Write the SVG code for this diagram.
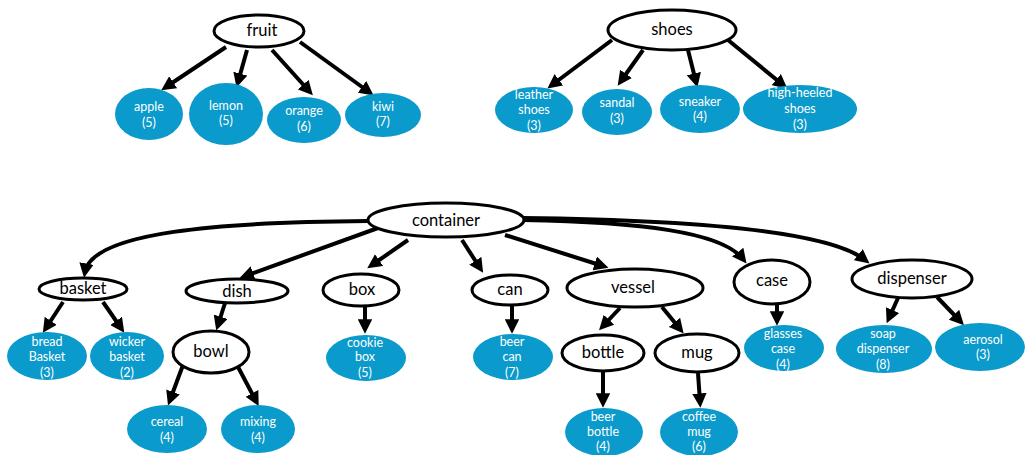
<svg xmlns="http://www.w3.org/2000/svg" width="1025" height="455" viewBox="0 0 1025 455">
  <style>
    .cat ellipse { fill: #ffffff; stroke: #000000; stroke-width: 3; }
    .cat text { font-family: Lato, "Open Sans", "Liberation Sans", sans-serif; font-size: 16.5px; fill: #000000; text-anchor: middle; }
    .leaf ellipse { fill: #0a9acb; stroke: none; }
    .leaf text { font-family: Lato, "Open Sans", "Liberation Sans", sans-serif; font-size: 12.5px; fill: #ffffff; text-anchor: middle; }
    #connectors path { fill: none; stroke: #000000; stroke-width: 4; marker-end: url(#arrow); }
  </style>
  <defs>
    <marker id="arrow" viewBox="0 0 10 10" refX="6" refY="5" markerWidth="3.6" markerHeight="3.6" orient="auto" markerUnits="strokeWidth">
      <path d="M0,0 L10,5 L0,10 z" fill="#000000"/>
    </marker>
  </defs>
  <rect width="1025" height="455" fill="#ffffff"/>

  <g id="connectors">
    <!-- fruit -->
    <path d="M226,47 L166,87"/>
    <path d="M247,50 L238,82"/>
    <path d="M272,50 L309,91"/>
    <path d="M300,42 L369,92"/>
    <!-- shoes -->
    <path d="M612,40 L552,85"/>
    <path d="M643,50 L621,81"/>
    <path d="M688,50 L696,82"/>
    <path d="M728,40 L783,85"/>
    <!-- container -->
    <path d="M368,221 C220,222 92,232 85,272"/>
    <path d="M378,228 L245,276"/>
    <path d="M408,240 L372,265"/>
    <path d="M462,240 L480,268"/>
    <path d="M505,235 L603,266"/>
    <path d="M523,220 C640,222 722,232 743,259"/>
    <path d="M522,218 C700,220 830,232 865,260"/>
    <!-- second level -->
    <path d="M63,302 L46,328"/>
    <path d="M103,302 L121,328"/>
    <path d="M225,303 L218,325"/>
    <path d="M183,365 L170,400"/>
    <path d="M237,365 L256,401"/>
    <path d="M365,306 L365,328"/>
    <path d="M512,305 L512,328"/>
    <path d="M620,308 L603,326"/>
    <path d="M662,307 L680,329"/>
    <path d="M603,372 L603,402"/>
    <path d="M698,373 L700,402"/>
    <path d="M777,304 L777,320"/>
    <path d="M898,298 L889,318"/>
    <path d="M937,297 L960,321"/>
  </g>

  <!-- fruit tree -->
  <g id="fruit" class="cat"><ellipse cx="259" cy="31" rx="45" ry="16"/><text x="262" y="36">fruit</text></g>
  <g id="apple" class="leaf"><ellipse cx="149" cy="114" rx="34" ry="26"/><text x="149" y="111">apple</text><text x="149" y="127">(5)</text></g>
  <g id="lemon" class="leaf"><ellipse cx="226" cy="114" rx="37" ry="31"/><text x="226" y="110">lemon</text><text x="226" y="125">(5)</text></g>
  <g id="orange" class="leaf"><ellipse cx="304" cy="120" rx="37" ry="23"/><text x="304" y="115">orange</text><text x="304" y="131">(6)</text></g>
  <g id="kiwi" class="leaf"><ellipse cx="383" cy="115" rx="38" ry="22"/><text x="383" y="111">kiwi</text><text x="383" y="126">(7)</text></g>

  <!-- shoes tree -->
  <g id="shoes" class="cat"><ellipse cx="672" cy="30" rx="64" ry="20"/><text x="672" y="35">shoes</text></g>
  <g id="leather-shoes" class="leaf"><ellipse cx="534" cy="110" rx="39" ry="23"/><text x="534" y="99">leather</text><text x="534" y="114">shoes</text><text x="534" y="130">(3)</text></g>
  <g id="sandal" class="leaf"><ellipse cx="617" cy="112" rx="35" ry="23"/><text x="617" y="107">sandal</text><text x="617" y="123">(3)</text></g>
  <g id="sneaker" class="leaf"><ellipse cx="700" cy="109" rx="40" ry="24"/><text x="700" y="106">sneaker</text><text x="700" y="121">(4)</text></g>
  <g id="high-heeled-shoes" class="leaf"><ellipse cx="800" cy="109" rx="57" ry="24"/><text x="800" y="97">high-heeled</text><text x="800" y="113">shoes</text><text x="800" y="129">(3)</text></g>

  <!-- container tree -->
  <g id="container" class="cat"><ellipse cx="446" cy="220" rx="78" ry="17"/><text x="446" y="226">container</text></g>
  <g id="basket" class="cat"><ellipse cx="83" cy="289" rx="44" ry="11"/><text x="83" y="294">basket</text></g>
  <g id="dish" class="cat"><ellipse cx="237" cy="291" rx="51" ry="12"/><text x="237" y="297">dish</text></g>
  <g id="box" class="cat"><ellipse cx="361" cy="290" rx="38" ry="16"/><text x="362" y="295">box</text></g>
  <g id="can" class="cat"><ellipse cx="510" cy="290" rx="38" ry="15"/><text x="510" y="295">can</text></g>
  <g id="vessel" class="cat"><ellipse cx="635" cy="288" rx="68" ry="19"/><text x="633" y="293">vessel</text></g>
  <g id="case" class="cat"><ellipse cx="772" cy="282" rx="38" ry="22"/><text x="772" y="286">case</text></g>
  <g id="dispenser" class="cat"><ellipse cx="912" cy="279" rx="60" ry="19"/><text x="912" y="284">dispenser</text></g>
  <g id="bowl" class="cat"><ellipse cx="211" cy="352" rx="38" ry="21"/><text x="211" y="357">bowl</text></g>
  <g id="bottle" class="cat"><ellipse cx="603" cy="353" rx="41" ry="18"/><text x="603" y="358">bottle</text></g>
  <g id="mug" class="cat"><ellipse cx="697" cy="353" rx="42" ry="19"/><text x="697" y="358">mug</text></g>

  <g id="bread-basket" class="leaf"><ellipse cx="47" cy="356" rx="40" ry="24"/><text x="47" y="346">bread</text><text x="47" y="361">Basket</text><text x="47" y="377">(3)</text></g>
  <g id="wicker-basket" class="leaf"><ellipse cx="127" cy="356" rx="37" ry="24"/><text x="127" y="346">wicker</text><text x="127" y="361">basket</text><text x="127" y="377">(2)</text></g>
  <g id="cereal" class="leaf"><ellipse cx="167" cy="429" rx="40" ry="24"/><text x="167" y="426">cereal</text><text x="167" y="442">(4)</text></g>
  <g id="mixing" class="leaf"><ellipse cx="258" cy="429" rx="37" ry="24"/><text x="258" y="426">mixing</text><text x="258" y="442">(4)</text></g>
  <g id="cookie-box" class="leaf"><ellipse cx="366" cy="358" rx="40" ry="23"/><text x="365" y="347">cookie</text><text x="365" y="361">box</text><text x="365" y="377">(5)</text></g>
  <g id="beer-can" class="leaf"><ellipse cx="513" cy="357" rx="40" ry="23"/><text x="512" y="346">beer</text><text x="512" y="361">can</text><text x="512" y="377">(7)</text></g>
  <g id="beer-bottle" class="leaf"><ellipse cx="604" cy="432" rx="39" ry="24"/><text x="603" y="421">beer</text><text x="603" y="436">bottle</text><text x="603" y="451">(4)</text></g>
  <g id="coffee-mug" class="leaf"><ellipse cx="699" cy="432" rx="39" ry="24"/><text x="699" y="421">coffee</text><text x="699" y="436">mug</text><text x="699" y="451">(6)</text></g>
  <g id="glasses-case" class="leaf"><ellipse cx="784" cy="348" rx="40" ry="23"/><text x="783" y="338">glasses</text><text x="783" y="353">case</text><text x="783" y="369">(4)</text></g>
  <g id="soap-dispenser" class="leaf"><ellipse cx="884" cy="349" rx="48" ry="24"/><text x="883" y="338">soap</text><text x="883" y="353">dispenser</text><text x="883" y="369">(8)</text></g>
  <g id="aerosol" class="leaf"><ellipse cx="980" cy="347" rx="45" ry="24"/><text x="983" y="344">aerosol</text><text x="983" y="359">(3)</text></g>
</svg>
